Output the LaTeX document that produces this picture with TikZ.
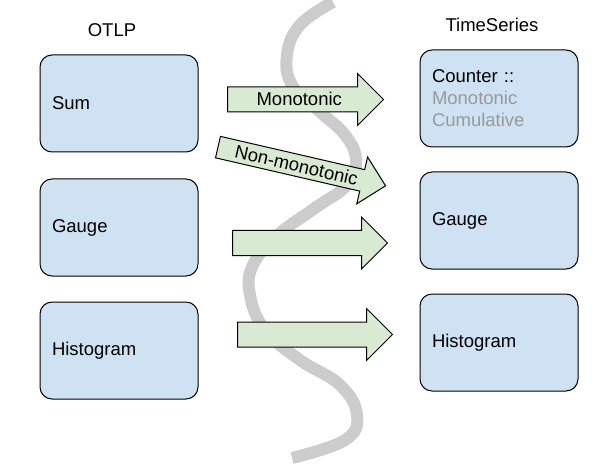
\documentclass[tikz,border=0pt]{standalone}
\usepackage{fontspec}
\setmainfont{Liberation Sans}
\usetikzlibrary{shapes.arrows, positioning}
\definecolor{boxblue}{HTML}{CFE2F3}
\definecolor{arrowgreen}{HTML}{D9EAD3}
\definecolor{wavegray}{HTML}{CCCCCC}
\definecolor{notegray}{HTML}{999999}

\begin{document}
\begin{tikzpicture}[x=1pt, y=-1pt, line width=1pt,
  every node/.style = {font=\fontsize{18.5}{22}\selectfont},
  metric/.style = {shape=rectangle, draw, rounded corners=12pt, fill=boxblue,
    minimum width=158pt, minimum height=97pt, text width=134pt, inner xsep=12pt, align=left},
  conv/.style = {single arrow, draw, fill=arrowgreen, anchor=tail, single arrow head extend=13.5pt,
    single arrow tip angle=90, text height=13pt, text depth=0pt, inner ysep=5.5pt, inner xsep=2pt}]
  \useasboundingbox (0,0) rectangle (597,473);
  % wavy divider between the two worlds
  \draw[wavegray, line width=12pt] plot[smooth, tension=0.7] coordinates {
    (333,2) (300,25) (287,55) (292,85) (318,110) (345,135) (356,160) (347,185)
    (315,208) (278,235) (253,265) (250,295) (265,330) (300,360) (340,385)
    (357,415) (345,440) (292,458)};

  % titles
  \node (otlp) at (112,30) {OTLP};
  \node (ts) at (492,25) {TimeSeries};

  % OTLP side
  \node[metric] (sum) at (119,103.5) {Sum};
  \node[metric, below=26pt of sum] (gauge) {Gauge};
  \node[metric, below=25pt of gauge] (hist) {Histogram};

  % TimeSeries side
  \node[metric] (counter) at (499,98.5) {Counter ::\\
    \textcolor{notegray}{Monotonic}\\\textcolor{notegray}{Cumulative}};
  \node[metric, below=24pt of counter] (tsgauge) {Gauge};
  \node[metric, below=24pt of tsgauge] (tshist) {Histogram};

  % conversions
  \node[conv, minimum height=156pt] (mono) at (227,99.5) {Monotonic};
  \node[conv, minimum height=172pt, inner ysep=4pt, single arrow head extend=13pt,
    rotate=-13] (nonmono) at (217.5,147) {Non-monotonic};
  \node[conv, minimum height=155pt] (gaugeconv) at (232,243) {};
  \node[conv, minimum height=155pt] (histconv) at (237,334.5) {};
\end{tikzpicture}
\end{document}
